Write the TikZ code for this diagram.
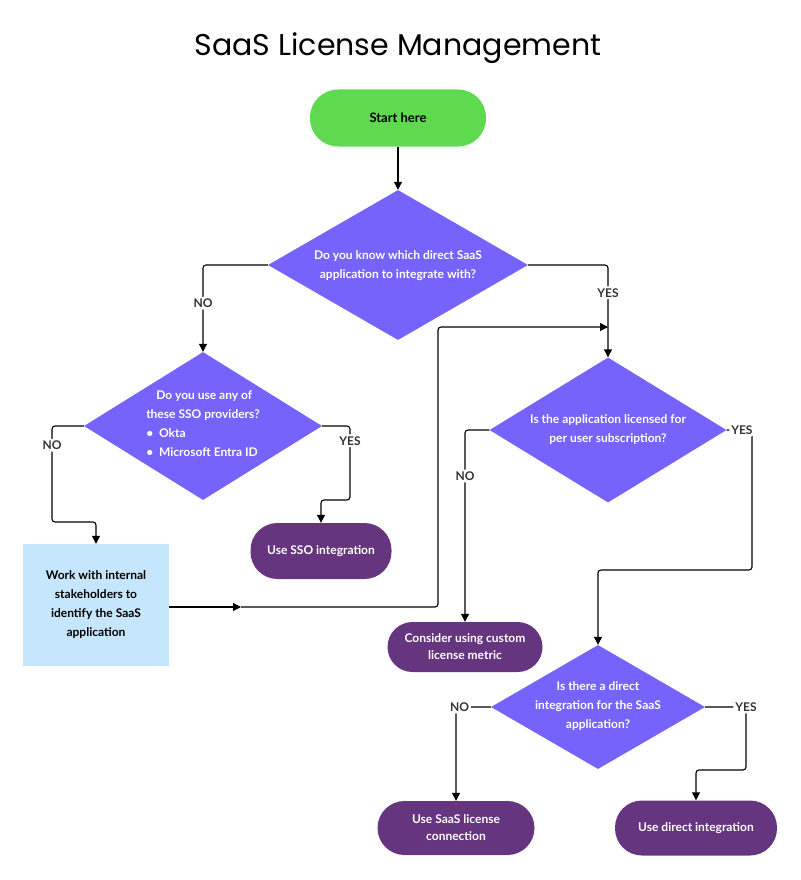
\documentclass[tikz,border=0pt]{standalone}
\usepackage{fontspec}
\setmainfont{Lato}
\newfontfamily\titlefont{Poppins}
\usetikzlibrary{shapes.geometric,arrows.meta}
\definecolor{dia}{HTML}{7563FC}
\definecolor{pill}{HTML}{66357F}
\definecolor{startc}{HTML}{5FD94F}
\definecolor{boxc}{HTML}{C5E6FD}
\definecolor{lbl}{HTML}{333333}
\begin{document}
\begin{tikzpicture}[x=1pt,y=-1pt,
  dia/.style={diamond,fill=dia,inner sep=0pt,text=white,font=\bfseries\fontsize{12}{17}\selectfont,align=center},
  pillst/.style={rounded corners=27pt,fill=pill,text=white,font=\bfseries\fontsize{12}{17}\selectfont,align=center},
  arr/.style={draw=black,line width=1.1pt,rounded corners=3pt,-{Triangle[width=8pt,length=8pt]}},
  lab/.style={fill=white,text=lbl,font=\bfseries\fontsize{12}{14}\selectfont,inner sep=2pt}]
\useasboundingbox (0,0) rectangle (800,880);
\node[font=\titlefont\fontsize{30}{34}\selectfont] (title) at (398,48) {SaaS License Management};
\node[fill=startc,rounded corners=28pt,minimum width=176pt,minimum height=57pt,font=\bfseries\fontsize{13}{16}\selectfont] (start) at (398,118) {Start here};
\node[dia,minimum width=260pt,minimum height=150pt] (d1) at (398,265) {};
\node[text=white,font=\bfseries\fontsize{12}{19}\selectfont,align=center] (t1) at (398,266) {Do you know which direct SaaS\\application to integrate with?};
\node[dia,minimum width=238pt,minimum height=148pt] (d2) at (203,426) {};
\node[text=white,font=\bfseries\fontsize{12}{19}\selectfont,align=left] (t2) at (203,424) {\hspace*{10pt}Do you use any of\\these SSO providers?\\\textbullet\ \ Okta\\\textbullet\ \ Microsoft Entra ID};
\node[dia,minimum width=237pt,minimum height=145pt] (d3) at (608,430) {};
\node[text=white,font=\bfseries\fontsize{12}{19}\selectfont,align=center] (t3) at (608,430) {Is the application licensed for\\per user subscription?};
\node[dia,minimum width=214pt,minimum height=124pt] (d4) at (598,707) {};
\node[text=white,font=\bfseries\fontsize{12}{19}\selectfont,align=center] (t4) at (598,706) {Is there a direct\\integration for the SaaS\\application?};
\node[pillst,minimum width=141pt,minimum height=56pt] (sso) at (321,551) {Use SSO integration};
\node[fill=boxc,minimum width=146pt,minimum height=122pt,align=center,font=\bfseries\fontsize{12}{19}\selectfont] (box) at (96,605) {Work with internal\\stakeholders to\\identify the SaaS\\application};
\node[pillst,rounded corners=25pt,minimum width=155pt,minimum height=50pt] (cust) at (465,647) {Consider using custom\\license metric};
\node[pillst,minimum width=157pt,minimum height=54pt] (saas) at (456,828) {Use SaaS license\\connection};
\node[pillst,minimum width=162pt,minimum height=55pt] (direct) at (696,828) {Use direct integration};
% connectors
\draw[arr] (start) -- (d1);
\draw[arr] (d1.west) -| node[lab,pos=0.72] {NO} (d2.north);
\draw[arr] (d1.east) -| node[lab,pos=0.65] {YES} (d3.north);
\draw[arr] (d2.west) -| node[lab,pos=0.6] {NO} (52,522) -| (box.north);
\draw[arr] (d2.east) -| node[lab,pos=0.6] {YES} (350,500) -| (sso.north);
\coordinate (m) at (241,607);
\coordinate (j) at (608,327);
\draw[arr] (box.east |- m) -- (m);
\draw[arr] (m) -| (438,327) -- (j);
\draw[arr] (d3.west) -| node[lab,pos=0.62] {NO} (cust.north);
\draw[arr] (d3.east) -| node[lab,pos=0.3] {YES} (752,570) -| (d4.north);
\draw[arr] (d4.west) -| node[lab,pos=0.45] {NO} (saas.north);
\draw[arr] (d4.east) -| node[lab,pos=0.5] {YES} (746,770) -| (direct.north);
\end{tikzpicture}
\end{document}
